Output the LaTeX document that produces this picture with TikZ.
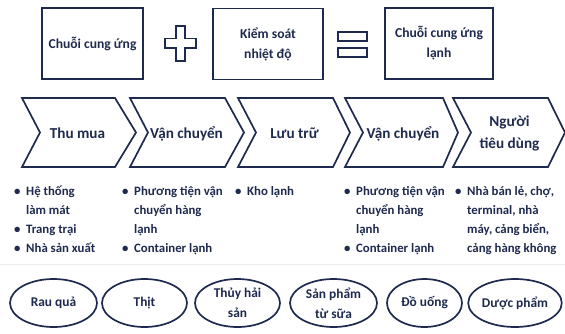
\documentclass[tikz,border=0pt]{standalone}
\usepackage{fontspec}
\setmainfont{Carlito}
\usetikzlibrary{shapes.geometric}
\definecolor{navy}{RGB}{30,42,78}

% bullet line and continuation line for the lists
\newcommand{\bitem}[1]{\makebox[12pt][l]{\textbullet}#1}
\newcommand{\bcont}[1]{\hspace*{12pt}#1}

% chevron: left edge, right edge of body, tip x, name, label
\newcommand{\chevshape}[5]{%
  \draw[frame] (#1,98) -- (#2,98) -- (#3,132.5) -- (#2,167) -- (#1,167) -- ({#1+18},132.5) -- cycle;
  \node[chevlbl] (#4) at ({(#1+18+#2)/2},133.5) {#5};
}

\begin{document}
\begin{tikzpicture}[x=1pt,y=-1pt,
  frame/.style={draw=navy, line width=1.7pt, line join=miter},
  topbox/.style={frame, rectangle, inner sep=0pt, text=navy, align=center,
    font=\bfseries\fontsize{13.6}{20}\selectfont},
  chevlbl/.style={inner sep=0pt, text=navy, align=center,
    font=\bfseries\fontsize{15.2}{22}\selectfont},
  listtxt/.style={inner sep=0pt, anchor=north west, text=navy, align=left,
    font=\bfseries\fontsize{12.8}{19}\selectfont},
  product/.style={frame, ellipse, inner sep=0pt, minimum height=48pt, text=navy,
    align=center, font=\bfseries\fontsize{13.4}{20}\selectfont}
]
\useasboundingbox (0,0) rectangle (565,333);

% equation row
\node[topbox, minimum width=101pt, minimum height=71pt] (supply) at (92.5,43.5) {Chuỗi cung ứng};
\node[topbox, minimum width=110pt, minimum height=71pt] (temp) at (268,44) {Kiểm soát\\nhiệt độ};
\node[topbox, minimum width=108pt, minimum height=71pt] (cold) at (439,43.5) {Chuỗi cung ứng\\lạnh};

% plus sign
\begin{scope}[shift={(180.5,43.3)}]
\draw[frame] (-4.8,-17.6) -- (4.8,-17.6) -- (4.8,-4.8) -- (15.7,-4.8) -- (15.7,4.8)
  -- (4.8,4.8) -- (4.8,17.6) -- (-4.8,17.6) -- (-4.8,4.8) -- (-15.7,4.8)
  -- (-15.7,-4.8) -- (-4.8,-4.8) -- cycle;
\end{scope}

% equals sign
\draw[frame] (338,32) rectangle (367,41);
\draw[frame] (338,48) rectangle (367,57);

% process chevrons
\chevshape{22}{115}{136}{buy}{Thu mua}
\chevshape{130}{225}{244}{ship1}{Vận chuyển}
\chevshape{238}{333}{350}{store}{Lưu trữ}
\chevshape{345}{443}{458}{ship2}{Vận chuyển}
\chevshape{453}{548}{565}{consumer}{Người\\tiêu dùng}

% lists under each stage
\node[listtxt] (l1) at (14,186) {\bitem{Hệ thống}\\\bcont{làm mát}\\\bitem{Trang trại}\\\bitem{Nhà sản xuất}};
\node[listtxt] (l2) at (122,186) {\bitem{Phương tiện vận}\\\bcont{chuyển hàng}\\\bcont{lạnh}\\\bitem{Container lạnh}};
\node[listtxt] (l3) at (235,186) {\bitem{Kho lạnh}};
\node[listtxt] (l4) at (344,186) {\bitem{Phương tiện vận}\\\bcont{chuyển hàng}\\\bcont{lạnh}\\\bitem{Container lạnh}};
\node[listtxt] (l5) at (455,186) {\bitem{Nhà bán lẻ, chợ,}\\\bcont{terminal, nhà}\\\bcont{máy, cảng biển,}\\\bcont{cảng hàng không}};

% faint rule under the lists
\draw[gray!15, line width=1pt] (0,264) -- (565,264);

% product groups
\node[product, minimum width=87pt] (veg) at (53.5,303) {Rau quả};
\node[product, minimum width=85pt] (meat) at (144.5,303) {Thịt};
\node[product, minimum width=85pt] (sea) at (237.5,303) {Thủy hải\\sản};
\node[product, minimum width=87pt] (dairy) at (333.5,303) {Sản phẩm\\từ sữa};
\node[product, minimum width=75pt] (drink) at (424.5,303) {Đồ uống};
\node[product, minimum width=93pt] (pharma) at (515,303) {Dược phẩm};
\end{tikzpicture}
\end{document}
